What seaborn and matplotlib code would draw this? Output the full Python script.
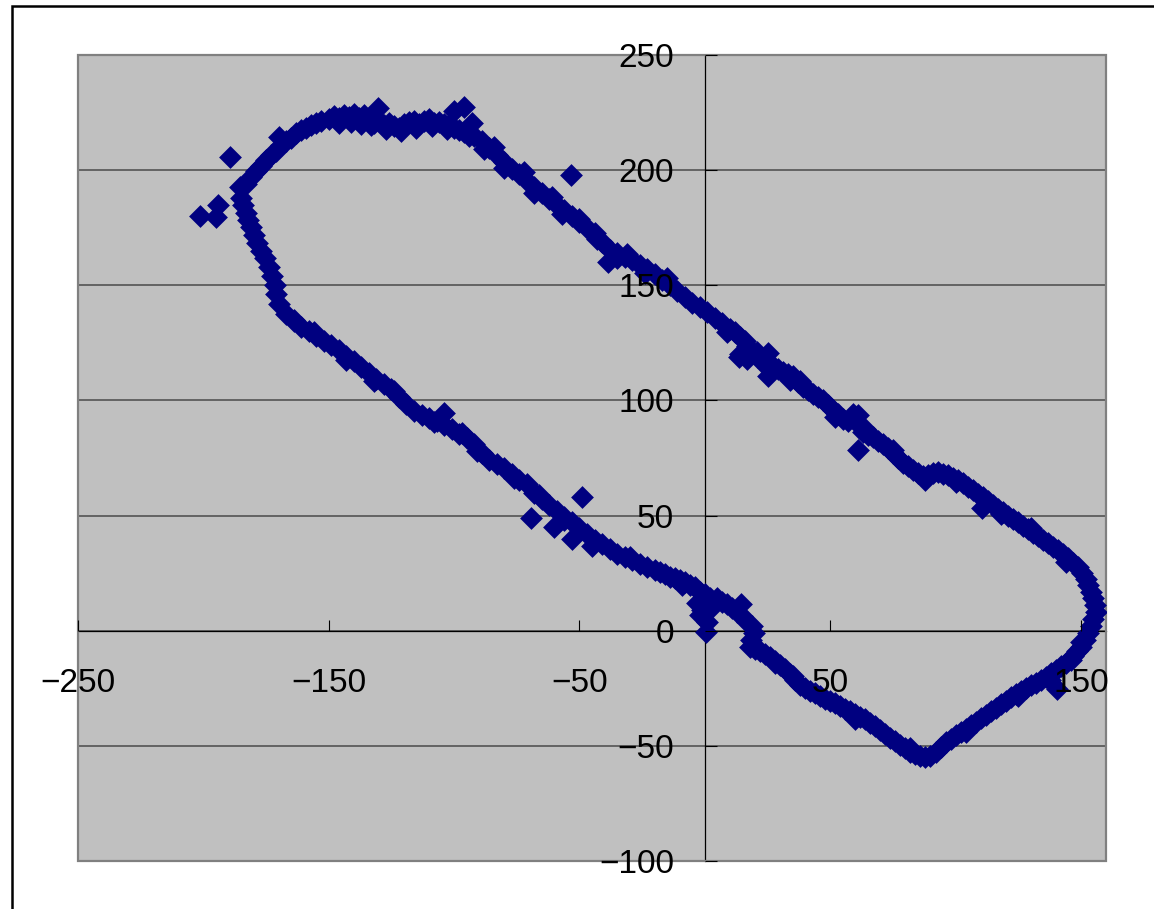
import matplotlib
matplotlib.use("Agg")
import matplotlib.pyplot as plt
from matplotlib.patches import Rectangle
import seaborn as sns
import numpy as np
import pandas as pd

# ---- data (x, y pairs along the loop) ----
lower_x = [2, 0, -2, -4, -6, -8, -10, -12, -14, -16, -18, -20, -23, -26, -29, -32, -35, -38, -41, -44,
           -47, -50, -53, -56, -59, -62, -65, -68, -71, -74, -77, -80, -83, -86, -89, -92, -95, -98, -101,
           -104, -107, -110, -113, -116, -119, -122, -125, -128, -131, -134, -137, -140, -143, -146, -149,
           -152, -155, -158, -161, -164, -167, -170, -171]
lower_y = [14, 16, 17, 19, 20, 21, 22, 23, 23.5, 24.5, 25.5, 26.5, 27.5, 29, 30.5, 32, 33.5, 35.5, 37.5, 39.5,
           42, 44.5, 47, 49.5, 52, 54.5, 57, 60, 63.5, 65.5, 68, 70.5, 72.5, 74, 77, 81, 83.5, 85.5, 87.5,
           89.5, 91, 92.5, 93.5, 95.5, 98.5, 101.5, 105, 107, 109.5, 112, 114.5, 117, 119.5, 122, 124,
           126, 128, 130, 132, 134.5, 137.5, 142, 146]

left_x = [-171.5, -172.5, -174, -175.5, -177, -178.5, -180, -181, -182, -183, -184, -185]
left_y = [150, 154, 158, 162, 165, 168.5, 172, 175.5, 178.5, 181.5, 185, 188]

corner_x = [-183, -181, -179, -177, -175, -173, -171, -169, -167, -165, -163, -161, -159, -157, -155, -153]
corner_y = [194, 197, 199.5, 202, 204.5, 206.5, 208.5, 211, 212.5, 214, 216, 217.5, 218.5, 219.5, 220.5, 221.5]

top_x = [-150, -148, -146, -144, -142, -140, -138, -136, -134, -132, -130, -128, -126, -124, -122, -120,
         -118, -116, -114, -112, -110, -108, -106, -104, -102, -100, -98, -96, -94,
         -146, -141, -137, -133, -127, -121, -115, -109, -103]
top_y = [222, 223.5, 222.5, 224, 223, 224.5, 222.5, 224, 222, 220.5, 221.5, 219.5, 220.5, 219, 218.5, 220,
         221, 221.5, 220, 221.5, 222, 220.5, 221, 220, 219.5, 218.5, 217.5, 216.5, 215,
         220.5, 221, 220, 219.5, 218, 217, 218.5, 219, 218]

upper_x = [-92, -89, -86, -83, -80, -77, -74, -71, -68, -65, -62, -59, -56, -53, -50, -47, -44, -41, -38,
           -35, -32, -29, -26, -23, -20, -17, -14, -11, -8, -5, -2, 1, 4, 7, 10]
upper_y = [215, 212.5, 209.5, 206.5, 203.5, 200.5, 198.5, 195.5, 192.5, 190, 187.5, 185, 182.5, 180, 177.5,
           175, 172.5, 169, 165.5, 164, 162.5, 161, 159, 157, 155, 152.5, 150, 147.5, 145, 142.5, 140.5,
           138.5, 136, 133.5, 131]

mid_x = [12, 14, 16, 14, 17, 19, 21, 23, 25, 25, 27, 29, 31, 33, 35, 37, 39, 41, 43, 45, 47, 49, 51, 53,
         55, 57, 59, 61, 62, 63, 65, 67, 69, 71, 73, 75, 77, 79, 81, 83, 85, 87, 89, 91, 93, 95, 97, 99,
         101, 103, 105, 107, 109, 111, 113]
mid_y = [129.5, 127.5, 126, 120, 118, 121, 119, 117, 114, 110.5, 115, 113.5, 112.5, 111.5, 110.5, 108, 106,
         104.5, 103, 101.5, 100, 98, 96, 94, 92, 91, 94, 93.5, 89, 86.5, 85, 84, 82.5, 81, 79.5, 77, 75,
         73, 71.5, 70, 68.5, 67, 67.5, 68.5, 69, 68, 67.5, 66.5, 65.5, 64, 62.5, 61, 59.5, 58, 56.5]

right_x = [115, 117, 119, 121, 123, 125, 127, 129, 131, 133, 135, 137, 139, 141, 143, 145, 147, 149, 150.5,
           152, 153, 154, 155, 155.5, 156, 155, 154, 153, 151.5, 150, 148.5, 147]
right_y = [54.5, 53, 51.5, 50, 48.5, 47, 45.5, 44, 42.5, 41, 39.5, 38, 36.5, 35, 33.5, 31.5, 29.5, 27.5, 25,
           22.5, 20, 17, 14, 11, 8, 5, 2, -1, -4, -7, -9, -11]

down_x = [146, 144, 142, 140, 138, 136, 134, 132, 130, 128, 126, 124, 122, 120, 118, 116, 114, 112, 110,
          108, 106, 104, 102, 100, 98, 96, 94, 92, 90, 88]
down_y = [-12.5, -14, -15.5, -17, -18.5, -20, -21.5, -22.5, -23.5, -25, -26, -27.5, -29, -30.5, -32, -33.5,
          -35, -36.5, -38, -39.5, -41, -42.5, -44, -45.5, -47, -48.5, -50.5, -52.5, -54.5, -55]

bottom_x = [86, 84, 82, 80, 78, 76, 74, 72, 70, 68, 66, 64, 62, 60, 58, 56, 54, 52, 50, 48, 46, 44, 42, 40,
            38, 36, 34, 32, 30, 28, 26, 24, 22, 20, 18, 18.5, 19.5, 19, 17, 15, 13, 11, 9, 7, 5]
bottom_y = [-54.5, -53.5, -52.5, -51, -49.5, -48, -46.5, -45, -43, -41.5, -40, -38.5, -37.5, -36, -35, -34,
            -32.5, -31.5, -30.5, -29.5, -28.5, -27, -26, -25, -23.5, -21.5, -19, -16.5, -15, -13, -11.5,
            -10, -9, -8, -7, -4, -1, 2, 4, 6.5, 8, 10, 11.5, 12.5, 13.5]

extra_x = [-88, -84, -80, -72, -68, -61, -57, -50, -43, -35, -31, -24, -15, 9, 17, 21, 34, 38, 52, 64, 75,
           88, 100, 118, 130, 144, 150, 125, 104, 82, 60, 35, 28, 5, -1, -3, -2, 1, 3, -9, -30, -56, -66,
           -76, -91, -97, -108, -124, -132, -143, -156, -164]
extra_y = [209, 210, 201, 199, 190, 188.5, 181, 179, 170, 162, 163.5, 155.5, 153, 129.5, 123.5, 121, 109,
           108.5, 93, 87.5, 78.5, 65.5, 64.5, 50.5, 44.5, 30, -5, -28.5, -44, -51, -38.5, -19.5, -14, 14,
           9, 12, 7, 4, 10.5, 20, 32, 48, 59, 66.5, 78, 86, 90.5, 104, 108.5, 117.5, 129.5, 135]

outlier_x = [-201.5, -195, -194, -189.5, -185.5, -170, -130.5, -100, -96, -93, -53.5, -38.5, 13.5, 25, 61,
             110.5, 140.5, 137.5, -104, -49, -69.5, -60, -53, -45, 0.5, 14.5]
outlier_y = [180, 179.5, 185, 205.5, 192.5, 214.5, 227, 225.5, 227.5, 220.5, 198, 160, 119, 120.5, 78.5,
             53.5, -25.5, -21.5, 94.5, 58, 49, 45, 40, 37, -0.5, 11.5]

x_ticks = [-250, -150, -50, 50, 150]
y_ticks = [-100, -50, 0, 50, 100, 150, 200, 250]
x_limits = (-250, 160)
y_limits = (-100, 250)

all_x = (lower_x + left_x + corner_x + top_x + upper_x + mid_x + right_x + down_x + bottom_x
         + extra_x + outlier_x)
all_y = (lower_y + left_y + corner_y + top_y + upper_y + mid_y + right_y + down_y + bottom_y
         + extra_y + outlier_y)
df = pd.DataFrame({"x": all_x, "y": all_y})

# ---- figure ----
W, H = 1154, 909
fig = plt.figure(figsize=(W / 100, H / 100), dpi=100, facecolor="white")
ax = fig.add_axes([78 / W, (H - 861) / H, (1106 - 78) / W, (861 - 55) / H])
ax.set_facecolor("#C0C0C0")

sns.scatterplot(data=df, x="x", y="y", marker="D", s=135, color="#000080",
                linewidth=0, ax=ax, zorder=1.2, legend=False)

ax.set_xlim(*x_limits)
ax.set_ylim(*y_limits)
ax.set_xticks(x_ticks)
ax.set_yticks(y_ticks)
ax.set_xlabel("")
ax.set_ylabel("")

for yv in y_ticks:
    ax.axhline(yv, color="#4a4a4a", lw=1.1, zorder=0.9)

for side in ["top", "right"]:
    ax.spines[side].set_visible(False)
ax.spines["left"].set_position(("data", 0))
ax.spines["bottom"].set_position(("data", 0))
for side in ["left", "bottom"]:
    ax.spines[side].set_color("black")
    ax.spines[side].set_linewidth(0.9)
    ax.spines[side].set_zorder(1.0)

ax.add_patch(Rectangle((0, 0), 1, 1, transform=ax.transAxes, fill=False,
                       edgecolor="#808080", lw=1.6, zorder=1.1, clip_on=False))

font = "Liberation Sans"
ax.tick_params(axis="x", direction="in", length=8, width=0.8, color="black",
               pad=27, labelsize=24)
ax.tick_params(axis="y", direction="in", length=8.5, width=0.8, color="black",
               pad=22, labelsize=24)

ax.set_xticklabels([f"{v}".replace("-", "\u2212") for v in x_ticks])
ax.set_yticklabels([f"{v}".replace("-", "\u2212") for v in y_ticks])
for lab in ax.get_xticklabels() + ax.get_yticklabels():
    lab.set_fontfamily(font)

# outer chart frame (clipped at right/bottom like the reference)
fig.patches.append(Rectangle((12 / W, -0.1), 1.2, (H - 6) / H + 0.1, transform=fig.transFigure,
                             fill=False, edgecolor="black", lw=1.8))

fig.savefig("out.png", dpi=100, facecolor="white")
